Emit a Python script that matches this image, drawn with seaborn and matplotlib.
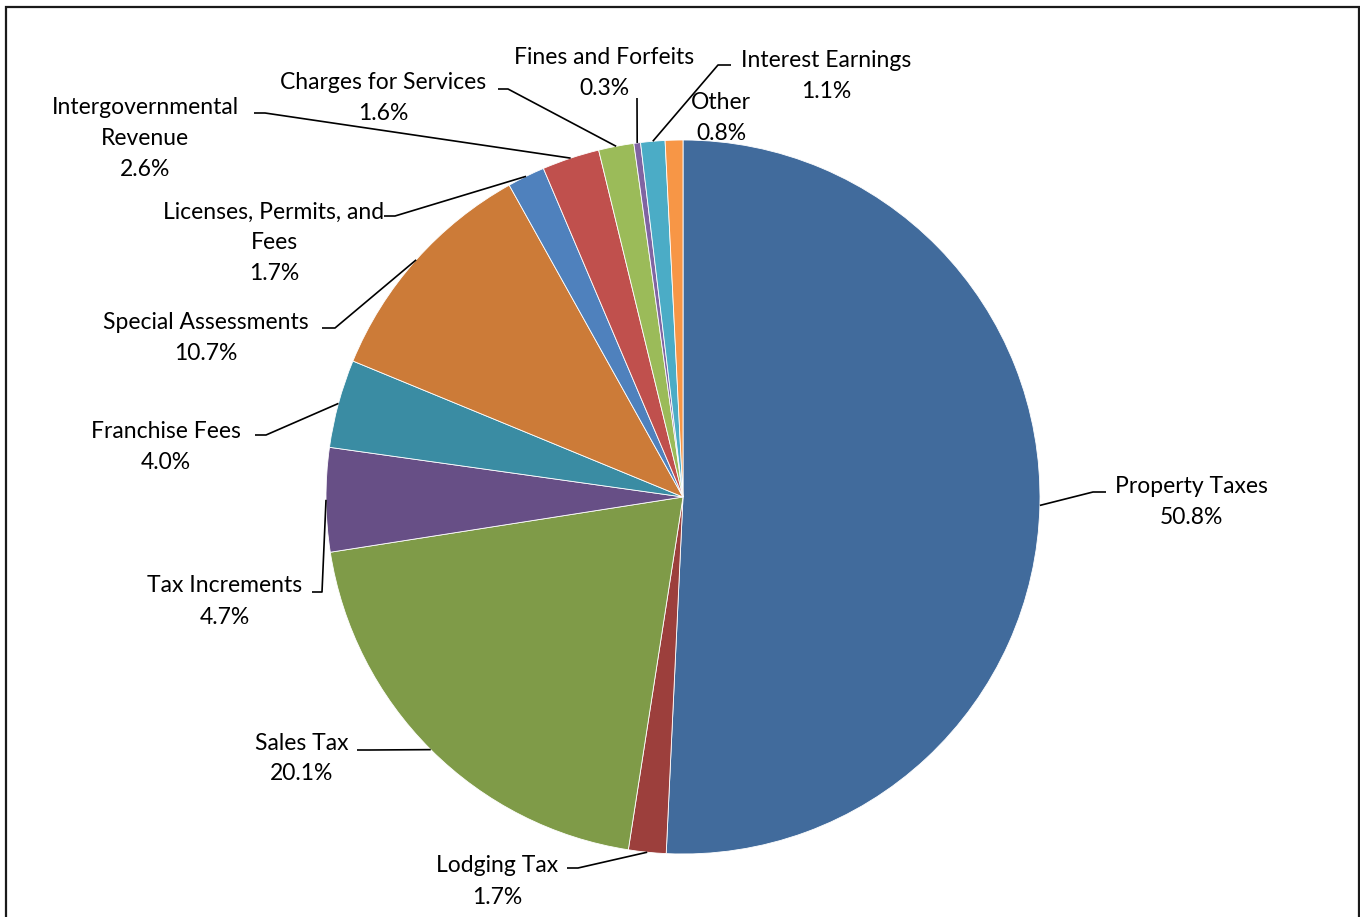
import matplotlib
matplotlib.use("Agg")
import matplotlib.pyplot as plt
import seaborn as sns
from matplotlib.patches import Rectangle
import numpy as np

# Revenue sources, clockwise from 12 o'clock
categories = [
    "Property Taxes", "Lodging Tax", "Sales Tax", "Tax Increments",
    "Franchise Fees", "Special Assessments", "Licenses, Permits, and Fees",
    "Intergovernmental Revenue", "Charges for Services", "Fines and Forfeits",
    "Interest Earnings", "Other",
]
shares = [50.8, 1.7, 20.1, 4.7, 4.0, 10.7, 1.7, 2.6, 1.6, 0.3, 1.1, 0.8]
pct_labels = ["50.8%", "1.7%", "20.1%", "4.7%", "4.0%", "10.7%", "1.7%",
              "2.6%", "1.6%", "0.3%", "1.1%", "0.8%"]
# Label text split over lines as it is drawn
label_lines = [
    ["Property Taxes"], ["Lodging Tax"], ["Sales Tax"], ["Tax Increments"],
    ["Franchise Fees"], ["Special Assessments"], ["Licenses, Permits, and", "Fees"],
    ["Intergovernmental", "Revenue"], ["Charges for Services"],
    ["Fines and Forfeits"], ["Interest Earnings"], ["Other"],
]

palette = sns.color_palette([
    "#416B9C", "#9C3F3C", "#7F9B48", "#674F86", "#3A8CA3", "#CC7B38",
    "#4F81BD", "#C0504D", "#9BBB59", "#8064A2", "#4BACC6", "#F79646",
])

sns.set_theme(style="white")
plt.rcParams["font.family"] = ["Lato", "DejaVu Sans"]

W, H = 1360, 917
fig = plt.figure(figsize=(W / 100, H / 100), dpi=100)
ax = fig.add_axes([0, 0, 1, 1])

CX, CY, R = 683, 497, 357


def px(x, y):
    return ((x - CX) / R, (CY - y) / R)


wedges, _ = ax.pie(shares, colors=palette, startangle=90, counterclock=False,
                   radius=1.0, center=(0, 0),
                   wedgeprops=dict(edgecolor="white", linewidth=0.6))

ax.set_xlim(-CX / R, (W - CX) / R)
ax.set_ylim((CY - H) / R, CY / R)
ax.set_aspect("equal", adjustable="datalim")
ax.axis("off")

# label layout: (center x, first line y) in pixels, line spacing 31 px
layout = {
    0: (1191, 487), 1: (497, 866), 2: (302, 743), 3: (225, 586),
    4: (166, 432), 5: (206, 323), 6: (274, 212), 7: (145, 108),
    8: (383, 83), 9: (604, 58), 10: (826, 61), 11: (721, 103),
}
# leader lines: elbow point and horizontal end (pixels); None = no leader
leaders = {
    0: [(1093, 492), (1106, 492)],
    1: [(578, 868), (567, 868)],
    2: [(370, 750), (357, 750)],
    3: [(322, 592), (312, 592)],
    4: [(266, 435), (255, 435)],
    5: [(335, 328), (322, 328)],
    6: [(395, 216), (384, 216)],
    7: [(265, 113), (254, 113)],
    8: [(508, 89), (498, 89)],
    9: [(637, 98)],
    10: [(718, 65), (731, 65)],
    11: None,
}

LS = 31
for i, w in enumerate(wedges):
    mid = np.deg2rad((w.theta1 + w.theta2) / 2)
    anchor = (np.cos(mid), np.sin(mid))
    if leaders[i]:
        pts = [anchor] + [px(*p) for p in leaders[i]]
        xs, ys = zip(*pts)
        ax.plot(xs, ys, color="black", lw=1.2, solid_capstyle="butt", zorder=3)
    cx, y0 = layout[i]
    lines = label_lines[i] + [pct_labels[i]]
    for k, line in enumerate(lines):
        tx, ty = px(cx, y0 + k * LS)
        ax.text(tx, ty, line, ha="center", va="center", fontsize=16.5,
                color="black", zorder=4)

# chart frame
fig.add_artist(Rectangle((6 / W, -0.05), (1359 - 6) / W, (H - 7) / H + 0.05,
                         transform=fig.transFigure, fill=False,
                         edgecolor="#1a1a1a", linewidth=1.6))

fig.savefig("out.png", dpi=100)
